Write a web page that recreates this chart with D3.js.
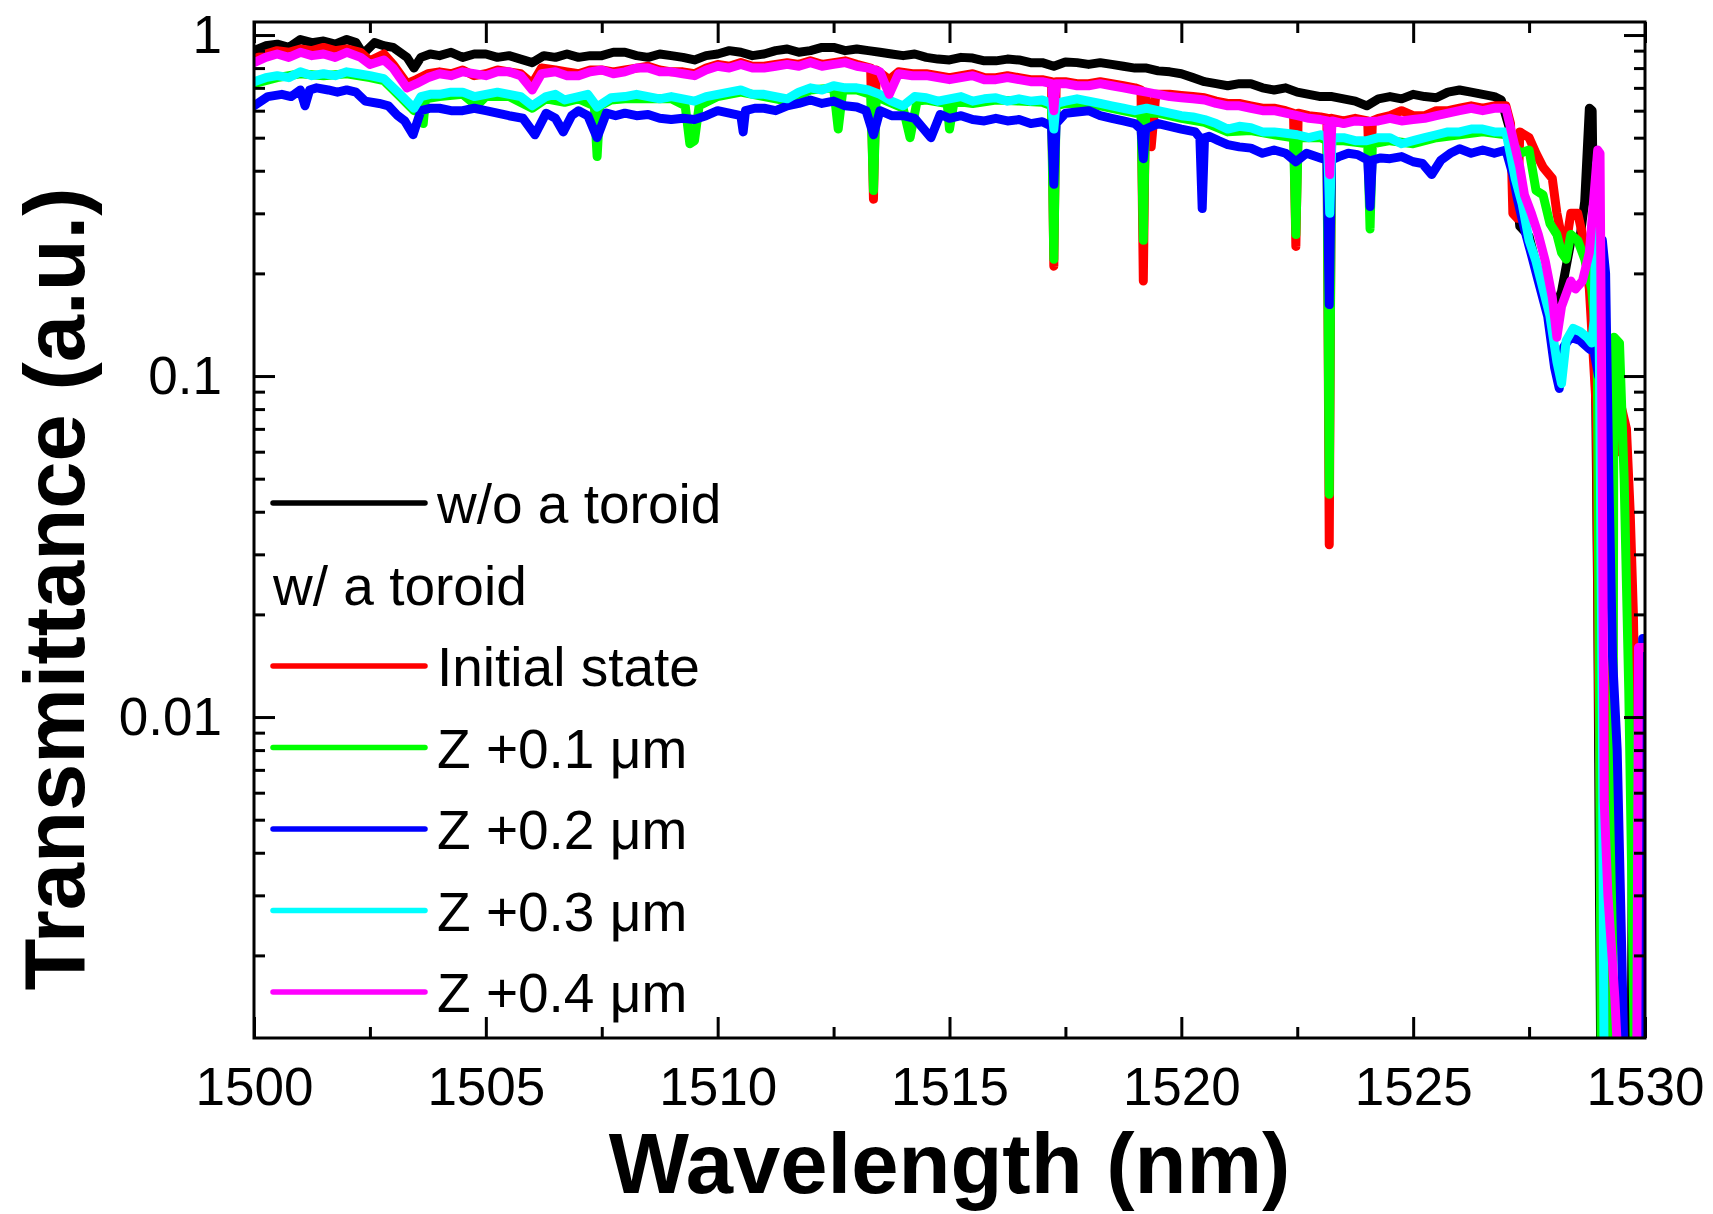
<!DOCTYPE html>
<html>
<head>
<meta charset="utf-8">
<script src="https://cdn.jsdelivr.net/npm/d3@7"></script>
<style>
    body { margin: 0; background: #fff; }
    svg text { font-family: Arial, "Liberation Sans", sans-serif; fill: #000; }
</style>
</head>
<body>
<svg id="drawing_region"></svg>
<script>
// wavelength (nm), transmittance (a.u.)
const woToroid = [
    [1500.0,0.90],[1500.25,0.93],[1500.5,0.94],[1500.75,0.92],[1501.0,0.97],[1501.25,0.95],[1501.5,0.96],[1501.75,0.94],
    [1502.0,0.97],[1502.2,0.95],[1502.35,0.88],[1502.6,0.95],[1502.8,0.93],[1503.0,0.92],[1503.3,0.86],[1503.45,0.80],
    [1503.6,0.86],[1503.8,0.88],[1504.0,0.87],[1504.25,0.89],[1504.5,0.86],[1504.75,0.88],[1505.0,0.88],[1505.25,0.86],
    [1505.5,0.87],[1505.75,0.85],[1506.0,0.83],[1506.25,0.87],[1506.5,0.86],[1506.75,0.88],[1507.0,0.86],[1507.25,0.87],
    [1507.5,0.87],[1507.75,0.89],[1508.0,0.89],[1508.25,0.87],[1508.5,0.86],[1508.75,0.88],[1509.0,0.87],[1509.25,0.86],
    [1509.5,0.845],[1509.75,0.87],[1510.0,0.88],[1510.25,0.90],[1510.5,0.89],[1510.75,0.87],[1511.0,0.88],[1511.25,0.90],
    [1511.5,0.91],[1511.75,0.89],[1512.0,0.90],[1512.25,0.92],[1512.5,0.92],[1512.75,0.90],[1513.0,0.91],[1513.25,0.90],
    [1513.5,0.89],[1513.75,0.88],[1514.0,0.87],[1514.25,0.88],[1514.5,0.86],[1514.75,0.85],[1515.0,0.845],[1515.25,0.86],
    [1515.5,0.856],[1515.75,0.84],[1516.0,0.84],[1516.25,0.85],[1516.5,0.845],[1516.75,0.83],[1517.0,0.83],[1517.25,0.81],
    [1517.5,0.834],[1517.75,0.83],[1518.0,0.82],[1518.25,0.83],[1518.5,0.82],[1518.75,0.81],[1519.0,0.80],[1519.25,0.80],
    [1519.5,0.785],[1519.75,0.78],[1520.0,0.77],[1520.25,0.75],[1520.5,0.73],[1520.75,0.72],[1521.0,0.71],[1521.25,0.72],
    [1521.5,0.72],[1521.75,0.70],[1522.0,0.69],[1522.25,0.70],[1522.5,0.68],[1522.75,0.67],[1523.0,0.66],[1523.25,0.66],
    [1523.5,0.65],[1523.75,0.64],[1524.0,0.62],[1524.25,0.65],[1524.5,0.66],[1524.75,0.65],[1525.0,0.67],[1525.25,0.66],
    [1525.5,0.655],[1525.75,0.68],[1526.0,0.69],[1526.25,0.68],[1526.5,0.67],[1526.75,0.66],[1526.9,0.645],[1527.1,0.52],
    [1527.3,0.275],[1527.5,0.257],[1527.7,0.20],[1527.9,0.166],[1528.0,0.15],[1528.2,0.177],[1528.4,0.248],[1528.6,0.255],
    [1528.7,0.325],[1528.8,0.61],[1528.86,0.60],[1528.93,0.11],[1528.98,0.022],[1529.02,0.0028],[1529.05,0.0008],
    [1529.7,0.0008],[1529.75,0.019],[1529.8,0.0048],[1529.83,0.0008],[1530.0,0.0008]
];

const initialState = [
    [1500.0,0.85],[1500.25,0.88],[1500.5,0.90],[1500.75,0.89],[1501.0,0.91],[1501.25,0.90],[1501.5,0.92],[1501.75,0.90],
    [1502.0,0.91],[1502.3,0.89],[1502.5,0.84],[1502.8,0.88],[1503.0,0.82],[1503.3,0.72],[1503.5,0.74],[1503.75,0.77],
    [1504.0,0.78],[1504.25,0.77],[1504.5,0.79],[1504.75,0.76],[1505.0,0.77],[1505.25,0.79],[1505.5,0.78],[1505.75,0.77],
    [1506.0,0.72],[1506.2,0.80],[1506.5,0.79],[1506.75,0.78],[1507.0,0.77],[1507.25,0.79],[1507.5,0.79],[1507.75,0.78],
    [1508.0,0.79],[1508.25,0.80],[1508.5,0.81],[1508.75,0.79],[1509.0,0.78],[1509.25,0.78],[1509.5,0.77],[1509.75,0.80],
    [1510.0,0.82],[1510.25,0.81],[1510.5,0.83],[1510.75,0.81],[1511.0,0.81],[1511.25,0.82],[1511.5,0.83],[1511.75,0.82],
    [1512.0,0.84],[1512.25,0.82],[1512.5,0.83],[1512.75,0.84],[1513.0,0.82],[1513.3,0.80],[1513.36,0.33],[1513.42,0.79],
    [1513.7,0.74],[1513.9,0.78],[1514.2,0.77],[1514.5,0.77],[1514.75,0.76],[1515.0,0.75],[1515.25,0.76],[1515.5,0.77],
    [1515.75,0.75],[1516.0,0.75],[1516.25,0.76],[1516.5,0.75],[1516.75,0.74],[1517.0,0.74],[1517.2,0.73],[1517.25,0.21],
    [1517.3,0.73],[1517.5,0.73],[1517.75,0.72],[1518.0,0.72],[1518.25,0.73],[1518.5,0.72],[1518.75,0.71],[1519.0,0.70],
    [1519.13,0.69],[1519.18,0.19],[1519.23,0.68],[1519.35,0.47],[1519.45,0.67],[1519.75,0.67],[1520.0,0.665],[1520.25,0.66],
    [1520.5,0.655],[1520.75,0.64],[1521.0,0.63],[1521.25,0.63],[1521.5,0.62],[1521.75,0.61],[1522.0,0.61],[1522.25,0.60],
    [1522.42,0.59],[1522.47,0.24],[1522.52,0.59],[1522.75,0.58],[1523.0,0.575],[1523.14,0.57],[1523.19,0.032],[1523.24,0.57],
    [1523.5,0.56],[1523.75,0.57],[1524.02,0.56],[1524.07,0.32],[1524.12,0.56],[1524.25,0.57],[1524.5,0.58],[1524.75,0.60],
    [1525.0,0.58],[1525.25,0.58],[1525.5,0.60],[1525.75,0.60],[1526.0,0.61],[1526.25,0.62],[1526.5,0.61],[1526.75,0.62],
    [1527.0,0.62],[1527.1,0.55],[1527.15,0.30],[1527.25,0.29],[1527.3,0.52],[1527.5,0.50],[1527.65,0.45],[1527.8,0.41],
    [1528.0,0.38],[1528.1,0.30],[1528.27,0.23],[1528.4,0.30],[1528.55,0.30],[1528.65,0.26],[1528.8,0.18],[1528.95,0.08],
    [1529.0,0.012],[1529.05,0.004],[1529.1,0.0008],[1529.28,0.0008],[1529.32,0.09],[1529.42,0.06],[1529.5,0.08],
    [1529.6,0.07],[1529.68,0.04],[1529.75,0.02],[1529.82,0.005],[1529.86,0.0008],[1530.0,0.0008]
];

const z01 = [
    [1500.0,0.72],[1500.5,0.75],[1501.0,0.77],[1501.5,0.76],[1502.0,0.77],[1502.5,0.75],[1502.8,0.735],[1503.15,0.66],
    [1503.45,0.60],[1503.6,0.65],[1503.65,0.55],[1503.7,0.65],[1504.0,0.66],[1504.5,0.67],[1504.8,0.62],[1505.0,0.66],
    [1505.5,0.66],[1506.0,0.61],[1506.3,0.65],[1506.7,0.635],[1507.0,0.65],[1507.34,0.62],[1507.4,0.44],[1507.46,0.62],
    [1507.7,0.645],[1508.0,0.65],[1508.5,0.65],[1509.0,0.65],[1509.3,0.62],[1509.4,0.48],[1509.5,0.49],[1509.6,0.62],
    [1510.0,0.66],[1510.5,0.68],[1511.0,0.66],[1511.5,0.64],[1512.0,0.69],[1512.5,0.70],[1512.6,0.53],[1512.7,0.69],
    [1513.0,0.69],[1513.3,0.67],[1513.36,0.35],[1513.42,0.66],[1514.0,0.61],[1514.15,0.50],[1514.3,0.64],[1514.5,0.645],
    [1514.95,0.63],[1515.0,0.53],[1515.1,0.64],[1515.5,0.63],[1516.0,0.645],[1516.5,0.64],[1517.0,0.635],[1517.2,0.62],
    [1517.25,0.22],[1517.3,0.62],[1517.5,0.63],[1518.0,0.63],[1518.5,0.61],[1519.0,0.59],[1519.13,0.59],[1519.18,0.25],
    [1519.23,0.59],[1519.5,0.59],[1520.0,0.57],[1520.5,0.555],[1521.0,0.52],[1521.5,0.525],[1522.0,0.51],[1522.42,0.50],
    [1522.47,0.26],[1522.52,0.50],[1523.0,0.50],[1523.14,0.49],[1523.19,0.045],[1523.24,0.49],[1523.5,0.49],[1524.02,0.48],
    [1524.07,0.27],[1524.12,0.48],[1524.5,0.49],[1525.0,0.48],[1525.5,0.50],[1526.0,0.51],[1526.5,0.52],[1527.0,0.51],
    [1527.3,0.45],[1527.5,0.46],[1527.65,0.35],[1527.8,0.34],[1527.95,0.28],[1528.1,0.26],[1528.2,0.23],[1528.3,0.22],
    [1528.4,0.26],[1528.55,0.25],[1528.7,0.22],[1528.85,0.18],[1528.97,0.12],[1529.02,0.01],[1529.06,0.0008],
    [1529.3,0.0008],[1529.33,0.13],[1529.45,0.125],[1529.55,0.05],[1529.65,0.012],[1529.72,0.003],[1529.78,0.0008],
    [1530.0,0.0008]
];

const z02 = [
    [1500.0,0.62],[1500.3,0.66],[1500.6,0.67],[1500.8,0.66],[1501.0,0.69],[1501.1,0.62],[1501.2,0.69],[1501.35,0.70],
    [1501.6,0.69],[1501.8,0.68],[1502.0,0.69],[1502.2,0.68],[1502.4,0.64],[1502.7,0.63],[1502.9,0.62],[1503.1,0.58],
    [1503.25,0.56],[1503.43,0.51],[1503.6,0.60],[1503.8,0.61],[1504.0,0.61],[1504.25,0.60],[1504.5,0.60],[1504.75,0.61],
    [1505.0,0.60],[1505.25,0.59],[1505.5,0.58],[1505.8,0.57],[1506.06,0.51],[1506.3,0.59],[1506.5,0.57],[1506.67,0.52],
    [1506.85,0.58],[1507.0,0.60],[1507.2,0.58],[1507.4,0.50],[1507.6,0.59],[1507.8,0.58],[1508.0,0.59],[1508.25,0.58],
    [1508.5,0.585],[1508.75,0.57],[1509.0,0.565],[1509.25,0.57],[1509.5,0.565],[1509.75,0.58],[1510.0,0.60],[1510.25,0.59],
    [1510.5,0.58],[1510.55,0.52],[1510.6,0.60],[1510.8,0.61],[1511.0,0.61],[1511.25,0.60],[1511.5,0.62],[1511.75,0.63],
    [1512.0,0.645],[1512.25,0.63],[1512.5,0.64],[1512.75,0.62],[1513.0,0.615],[1513.2,0.60],[1513.36,0.51],[1513.5,0.60],
    [1513.75,0.58],[1514.0,0.58],[1514.25,0.57],[1514.6,0.50],[1514.8,0.585],[1515.0,0.57],[1515.25,0.58],[1515.5,0.565],
    [1515.75,0.56],[1516.0,0.57],[1516.25,0.56],[1516.5,0.565],[1516.75,0.55],[1517.0,0.557],[1517.2,0.54],[1517.25,0.365],
    [1517.3,0.55],[1517.5,0.59],[1517.75,0.595],[1518.0,0.60],[1518.25,0.58],[1518.5,0.57],[1518.75,0.56],[1519.0,0.55],
    [1519.13,0.53],[1519.18,0.434],[1519.23,0.53],[1519.5,0.55],[1519.75,0.54],[1520.0,0.53],[1520.3,0.52],[1520.4,0.50],
    [1520.45,0.31],[1520.5,0.50],[1520.6,0.505],[1520.8,0.49],[1521.0,0.477],[1521.25,0.47],[1521.5,0.466],[1521.75,0.45],
    [1522.0,0.46],[1522.25,0.45],[1522.47,0.425],[1522.7,0.45],[1523.0,0.436],[1523.14,0.43],[1523.19,0.162],[1523.24,0.43],
    [1523.4,0.44],[1523.6,0.45],[1523.8,0.446],[1524.02,0.43],[1524.07,0.314],[1524.12,0.43],[1524.3,0.436],[1524.5,0.434],
    [1524.75,0.44],[1525.0,0.425],[1525.2,0.42],[1525.4,0.39],[1525.6,0.43],[1525.8,0.45],[1526.0,0.464],[1526.25,0.45],
    [1526.5,0.46],[1526.75,0.45],[1527.0,0.46],[1527.15,0.39],[1527.25,0.33],[1527.4,0.27],[1527.55,0.227],[1527.7,0.19],
    [1527.9,0.15],[1528.05,0.106],[1528.15,0.092],[1528.25,0.122],[1528.4,0.13],[1528.6,0.127],[1528.8,0.12],[1528.9,0.118],
    [1529.0,0.10],[1529.08,0.25],[1529.15,0.20],[1529.22,0.05],[1529.3,0.015],[1529.4,0.008],[1529.5,0.002],
    [1529.56,0.0008],[1529.92,0.0008],[1529.95,0.017],[1530.0,0.017]
];

const z03 = [
    [1500.0,0.73],[1500.25,0.75],[1500.5,0.76],[1500.75,0.75],[1501.0,0.78],[1501.25,0.76],[1501.5,0.77],[1501.75,0.76],
    [1502.0,0.78],[1502.25,0.77],[1502.5,0.76],[1502.8,0.745],[1503.15,0.67],[1503.45,0.61],[1503.6,0.66],[1503.8,0.67],
    [1504.0,0.67],[1504.25,0.68],[1504.5,0.68],[1504.75,0.66],[1505.0,0.67],[1505.25,0.68],[1505.5,0.67],[1505.75,0.66],
    [1506.0,0.62],[1506.3,0.66],[1506.5,0.67],[1506.7,0.645],[1507.0,0.66],[1507.2,0.67],[1507.4,0.615],[1507.7,0.655],
    [1508.0,0.66],[1508.25,0.67],[1508.5,0.66],[1508.75,0.65],[1509.0,0.66],[1509.25,0.65],[1509.5,0.64],[1509.75,0.66],
    [1510.0,0.67],[1510.25,0.68],[1510.5,0.69],[1510.75,0.67],[1511.0,0.67],[1511.25,0.66],[1511.5,0.65],[1511.75,0.68],
    [1512.0,0.70],[1512.25,0.69],[1512.5,0.71],[1512.75,0.70],[1513.0,0.70],[1513.25,0.69],[1513.5,0.67],[1513.75,0.64],
    [1514.0,0.62],[1514.25,0.66],[1514.5,0.655],[1514.75,0.64],[1515.0,0.65],[1515.25,0.66],[1515.5,0.64],[1515.75,0.65],
    [1516.0,0.655],[1516.25,0.64],[1516.5,0.65],[1516.75,0.64],[1517.0,0.645],[1517.2,0.63],[1517.25,0.53],[1517.3,0.63],
    [1517.5,0.64],[1517.75,0.65],[1518.0,0.64],[1518.25,0.63],[1518.5,0.62],[1518.75,0.61],[1519.0,0.60],[1519.25,0.61],
    [1519.5,0.60],[1519.75,0.59],[1520.0,0.58],[1520.25,0.575],[1520.5,0.565],[1520.75,0.55],[1521.0,0.53],[1521.25,0.54],
    [1521.5,0.535],[1521.75,0.52],[1522.0,0.52],[1522.25,0.515],[1522.5,0.51],[1522.75,0.50],[1523.0,0.51],[1523.15,0.50],
    [1523.2,0.30],[1523.25,0.50],[1523.5,0.50],[1523.75,0.49],[1524.0,0.49],[1524.25,0.50],[1524.5,0.50],[1524.75,0.48],
    [1525.0,0.49],[1525.25,0.50],[1525.5,0.51],[1525.75,0.52],[1526.0,0.52],[1526.25,0.53],[1526.5,0.53],[1526.75,0.52],
    [1527.0,0.52],[1527.1,0.445],[1527.2,0.38],[1527.35,0.32],[1527.5,0.25],[1527.65,0.217],[1527.8,0.18],[1527.95,0.15],
    [1528.1,0.11],[1528.2,0.095],[1528.3,0.127],[1528.45,0.138],[1528.6,0.135],[1528.75,0.13],[1528.85,0.125],
    [1528.9,0.145],[1528.96,0.42],[1529.02,0.1],[1529.08,0.01],[1529.12,0.0008],[1530.0,0.0008]
];

const z04 = [
    [1500.0,0.83],[1500.25,0.86],[1500.5,0.88],[1500.75,0.86],[1501.0,0.89],[1501.25,0.87],[1501.5,0.88],[1501.75,0.86],
    [1502.0,0.89],[1502.3,0.86],[1502.5,0.82],[1502.8,0.845],[1503.0,0.80],[1503.3,0.70],[1503.5,0.72],[1503.75,0.75],
    [1504.0,0.77],[1504.25,0.76],[1504.5,0.78],[1504.75,0.77],[1505.0,0.76],[1505.25,0.78],[1505.5,0.78],[1505.75,0.76],
    [1506.0,0.69],[1506.2,0.77],[1506.5,0.78],[1506.75,0.76],[1507.0,0.76],[1507.25,0.78],[1507.5,0.79],[1507.75,0.77],
    [1508.0,0.78],[1508.25,0.80],[1508.5,0.80],[1508.75,0.78],[1509.0,0.78],[1509.25,0.77],[1509.5,0.76],[1509.75,0.79],
    [1510.0,0.81],[1510.25,0.80],[1510.5,0.82],[1510.75,0.80],[1511.0,0.80],[1511.25,0.81],[1511.5,0.82],[1511.75,0.81],
    [1512.0,0.83],[1512.25,0.81],[1512.5,0.82],[1512.75,0.83],[1513.0,0.81],[1513.25,0.80],[1513.5,0.78],[1513.7,0.67],
    [1513.9,0.77],[1514.2,0.76],[1514.5,0.76],[1514.75,0.75],[1515.0,0.74],[1515.25,0.75],[1515.5,0.76],[1515.75,0.74],
    [1516.0,0.74],[1516.25,0.75],[1516.5,0.74],[1516.75,0.73],[1517.0,0.73],[1517.2,0.72],[1517.25,0.60],[1517.3,0.72],
    [1517.5,0.72],[1517.75,0.71],[1518.0,0.71],[1518.25,0.72],[1518.5,0.71],[1518.75,0.70],[1519.0,0.69],[1519.25,0.68],
    [1519.5,0.67],[1519.75,0.66],[1520.0,0.655],[1520.25,0.65],[1520.5,0.645],[1520.75,0.63],[1521.0,0.62],[1521.25,0.62],
    [1521.5,0.61],[1521.75,0.60],[1522.0,0.60],[1522.25,0.59],[1522.5,0.58],[1522.75,0.57],[1523.0,0.565],[1523.15,0.56],
    [1523.2,0.39],[1523.25,0.56],[1523.5,0.55],[1523.75,0.56],[1524.0,0.557],[1524.25,0.56],[1524.5,0.57],[1524.75,0.56],
    [1525.0,0.565],[1525.25,0.57],[1525.5,0.58],[1525.75,0.59],[1526.0,0.60],[1526.25,0.61],[1526.5,0.60],[1526.75,0.61],
    [1527.0,0.61],[1527.15,0.50],[1527.3,0.41],[1527.4,0.34],[1527.55,0.30],[1527.7,0.26],[1527.85,0.217],[1528.0,0.17],
    [1528.1,0.13],[1528.2,0.16],[1528.4,0.19],[1528.5,0.18],[1528.65,0.19],[1528.8,0.23],[1528.98,0.46],[1529.03,0.45],
    [1529.08,0.05],[1529.12,0.0057],[1529.2,0.003],[1529.35,0.0015],[1529.45,0.0008],[1529.82,0.0008],[1529.86,0.016],
    [1530.0,0.016]
];

const seriesLabels = ["w/o a toroid", "Initial state", "Z +0.1 \u03bcm", "Z +0.2 \u03bcm", "Z +0.3 \u03bcm", "Z +0.4 \u03bcm"];
const seriesColors = ["#000000", "#ff0000", "#00ff00", "#0000ff", "#00ffff", "#ff00ff"];
const seriesData = [woToroid, initialState, z01, z02, z03, z04];

const xMajorTicks = [1500, 1505, 1510, 1515, 1520, 1525, 1530];
const xMinorTicks = [1502.5, 1507.5, 1512.5, 1517.5, 1522.5, 1527.5];
const yMajorTicks = [0.01, 0.1, 1];
const yTickLabels = ["0.01", "0.1", "1"];
const yMinorTicks = [0.002, 0.003, 0.004, 0.005, 0.006, 0.007, 0.008, 0.009,
                     0.02, 0.03, 0.04, 0.05, 0.06, 0.07, 0.08, 0.09,
                     0.2, 0.3, 0.4, 0.5, 0.6, 0.7, 0.8, 0.9];

const config = {
    parent: '#drawing_region',
    width: 1713,
    height: 1214,
    margin: { top: 22, right: 68, bottom: 176, left: 254 }
};

const svg = d3.select(config.parent)
    .attr('width', config.width)
    .attr('height', config.height)
    .style('display', 'block');

const inner_width = config.width - config.margin.left - config.margin.right;
const inner_height = config.height - config.margin.top - config.margin.bottom;

const chart = svg.append('g')
    .attr('transform', `translate(${config.margin.left}, ${config.margin.top})`);

const xscale = d3.scaleLinear().domain([1500, 1530]).range([0, inner_width]);
const yscale = d3.scaleLog().domain([0.001145, 1.092]).range([inner_height, 0]);

chart.append('clipPath').attr('id', 'plot-clip')
    .append('rect')
    .attr('width', inner_width)
    .attr('height', inner_height);

// Draw spectra (later series on top)
const line = d3.line()
    .x(d => xscale(d[0]))
    .y(d => yscale(d[1]));

chart.append('g')
    .attr('clip-path', 'url(#plot-clip)')
    .selectAll('path')
    .data(seriesData)
    .enter()
    .append('path')
    .attr('d', line)
    .attr('fill', 'none')
    .attr('stroke', (d, i) => seriesColors[i])
    .attr('stroke-width', 9)
    .attr('stroke-linejoin', 'round')
    .attr('stroke-linecap', 'round');

// Axes, ticks point inward on all four sides
function styleAxis(g) {
    g.select('.domain').remove();
    g.selectAll('line').attr('stroke', '#000').attr('stroke-width', 3);
    g.selectAll('text').attr('font-size', 53).attr('font-family', 'Arial, "Liberation Sans", sans-serif');
}

chart.append('g')
    .attr('transform', `translate(0, ${inner_height})`)
    .call(d3.axisBottom(xscale).tickValues(xMajorTicks).tickSize(-21).tickPadding(29).tickFormat(d3.format('d')))
    .call(styleAxis);
chart.append('g')
    .attr('transform', `translate(0, ${inner_height})`)
    .call(d3.axisBottom(xscale).tickValues(xMinorTicks).tickSize(-11).tickFormat(''))
    .call(styleAxis);
chart.append('g')
    .call(d3.axisTop(xscale).tickValues(xMajorTicks).tickSize(-21).tickFormat(''))
    .call(styleAxis);
chart.append('g')
    .call(d3.axisTop(xscale).tickValues(xMinorTicks).tickSize(-11).tickFormat(''))
    .call(styleAxis);

chart.append('g')
    .call(d3.axisLeft(yscale).tickValues(yMajorTicks).tickSize(-21).tickPadding(32)
        .tickFormat((d, i) => yTickLabels[i]))
    .call(styleAxis);
chart.append('g')
    .call(d3.axisLeft(yscale).tickValues(yMinorTicks).tickSize(-11).tickFormat(''))
    .call(styleAxis);
chart.append('g')
    .attr('transform', `translate(${inner_width}, 0)`)
    .call(d3.axisRight(yscale).tickValues(yMajorTicks).tickSize(-21).tickFormat(''))
    .call(styleAxis);
chart.append('g')
    .attr('transform', `translate(${inner_width}, 0)`)
    .call(d3.axisRight(yscale).tickValues(yMinorTicks).tickSize(-11).tickFormat(''))
    .call(styleAxis);

chart.append('rect')
    .attr('width', inner_width)
    .attr('height', inner_height)
    .attr('fill', 'none')
    .attr('stroke', '#000')
    .attr('stroke-width', 3);

// Axis titles
svg.append('text')
    .attr('x', config.margin.left + inner_width / 2)
    .attr('y', 1193)
    .attr('text-anchor', 'middle')
    .attr('font-size', 85)
    .attr('font-weight', 'bold')
    .text('Wavelength (nm)');

svg.append('text')
    .attr('transform', 'translate(84, 589) rotate(-90)')
    .attr('text-anchor', 'middle')
    .attr('font-size', 85)
    .attr('font-weight', 'bold')
    .text('Transmittance (a.u.)');

// Legend
const legendRows = [
    { label: seriesLabels[0], color: seriesColors[0] },
    { label: 'w/ a toroid', color: null },
    { label: seriesLabels[1], color: seriesColors[1] },
    { label: seriesLabels[2], color: seriesColors[2] },
    { label: seriesLabels[3], color: seriesColors[3] },
    { label: seriesLabels[4], color: seriesColors[4] },
    { label: seriesLabels[5], color: seriesColors[5] }
];

const legend = svg.append('g').attr('transform', 'translate(273, 503)');
const row = legend.selectAll('g')
    .data(legendRows)
    .enter()
    .append('g')
    .attr('transform', (d, i) => `translate(0, ${i * 81.5})`);

row.filter(d => d.color)
    .append('line')
    .attr('x1', 0).attr('x2', 152)
    .attr('stroke', d => d.color)
    .attr('stroke-width', 5.5)
    .attr('stroke-linecap', 'round');

row.append('text')
    .attr('x', d => d.color ? 164 : 0)
    .attr('y', 20)
    .attr('font-size', 55)
    .text(d => d.label);
</script>
</body>
</html>
